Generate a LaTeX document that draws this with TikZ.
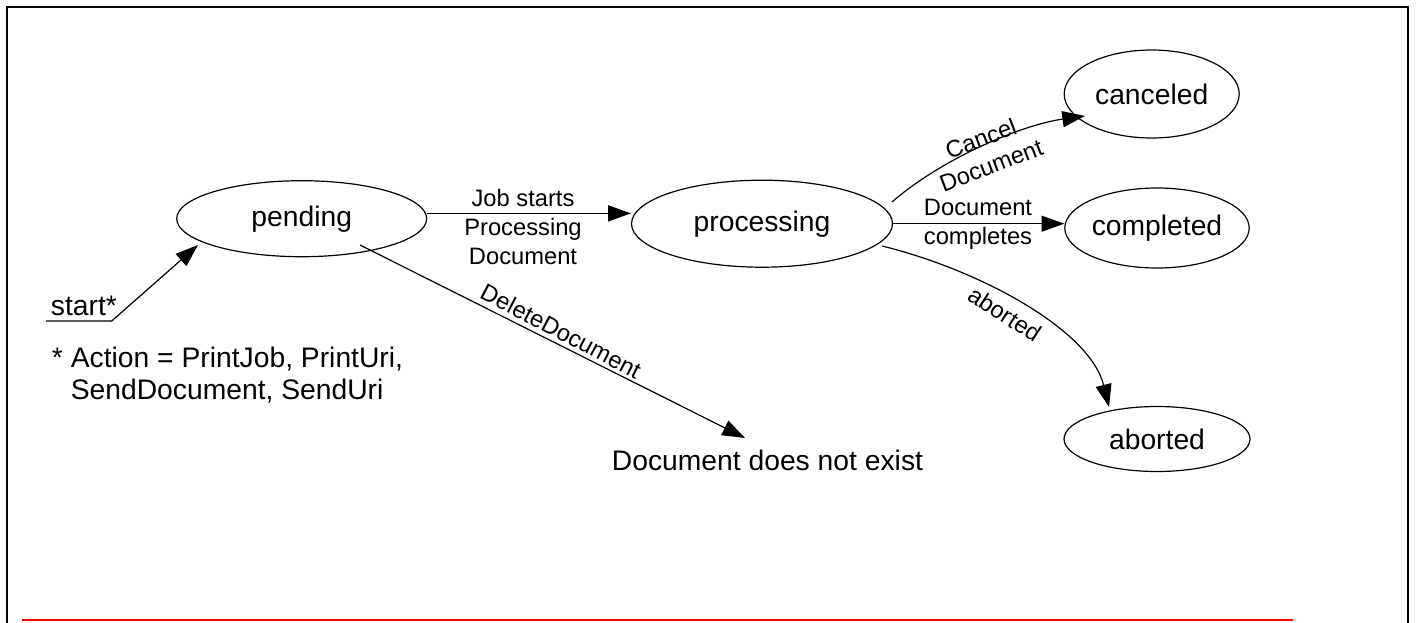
\documentclass[tikz,border=0pt]{standalone}
\usepackage{fontspec}
\setmainfont{Liberation Sans}
\usetikzlibrary{arrows.meta,shapes.geometric,calc}
\begin{document}
\begin{tikzpicture}[x=0.75pt,y=-0.75pt,
  state/.style={draw, ellipse, line width=0.9pt, inner sep=0pt, font=\fontsize{21.2}{24}\selectfont},
  big/.style={inner sep=0pt, font=\fontsize{21.2}{24}\selectfont},
  small/.style={inner sep=0pt, font=\fontsize{17.8}{21.5}\selectfont},
  arr/.style={line width=0.9pt, -{Triangle[length=17pt,width=12pt]}},
]
\useasboundingbox (0,0) rectangle (1416,622);
\draw[line width=1.8pt] (7,650) -- (7,7) -- (1408,7) -- (1408,650);
\draw[red, line width=1.6pt] (22,620) -- (1293,620);

\node[state, minimum width=187.5pt, minimum height=57pt] (pending) at (301.7,218.7) {pending};
\node[state, minimum width=195.75pt, minimum height=65.25pt] (processing) at (762,223.7) {processing};
\node[state, minimum width=131.25pt, minimum height=66pt] (canceled) at (1151.7,94) {canceled};
\node[state, minimum width=138pt, minimum height=60pt] (completed) at (1157,228) {completed};
\node[state, minimum width=139.5pt, minimum height=48.75pt] (aborted) at (1157,439) {aborted};
\node[big, anchor=base] (dne) at (767.5,470.7) {Document does not exist};

\coordinate (s0) at (46,321);
\coordinate (s1) at (111.7,321);
\coordinate (st) at (198,245);
\coordinate (pc) at (892,202);
\coordinate (ct) at (1085,116);
\coordinate (pa) at (882,246);
\coordinate (at) at (1109,407);
\coordinate (pd) at (360,245);
\coordinate (dt) at (745,438);
\path ([yshift=4pt]pending.east) coordinate (pe);

\draw[arr] (s0) -- (s1) -- (st);
\draw[arr] (pe) -- (pe -| processing.west);
\draw[arr] (processing.east) -- (processing.east -| completed.west);
\draw[arr] (pc) .. controls (940,160) and (1020,125) .. (ct);
\draw[arr] (pa) .. controls (980,270) and (1090,330) .. (at);
\draw[arr] (pd) -- (dt);

\node[big, anchor=base west] (startlbl) at (50.7,315.7) {start*};
\node[big, align=left, anchor=north west] (note) at (51.7,347) {* Action = PrintJob, PrintUri,\\\hphantom{* }SendDocument, SendUri};
\node[small, align=center] (l1) at (523,227) {Job starts\\Processing\\Document};
\node[small, align=center] (l2) at (978,224.4) {Document\\completes};
\node[small, align=center, rotate=21] (l3) at (986,152) {Cancel\\Document};
\node[small, rotate=-33] (l4) at (1005,314) {aborted};
\node[small, rotate=-27.5] (l5) at (561,331) {DeleteDocument};
\end{tikzpicture}
\end{document}
